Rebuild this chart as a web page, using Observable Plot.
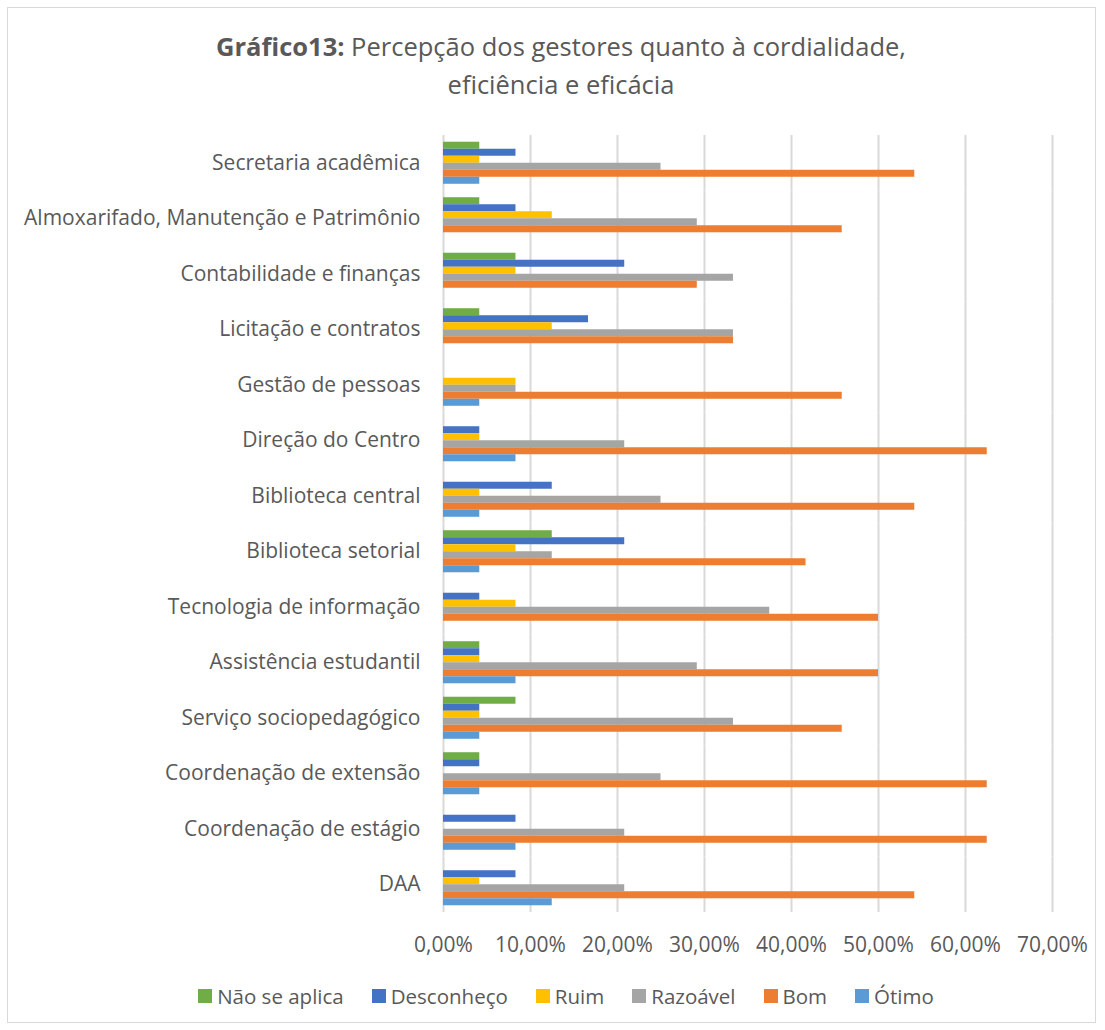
<!DOCTYPE html>
<html>
<head>
<meta charset="utf-8">
<script src="https://cdn.jsdelivr.net/npm/d3@7"></script>
<script src="https://cdn.jsdelivr.net/npm/@observablehq/plot@0.6"></script>
<style>
  html, body { margin: 0; padding: 0; background: #fff; }
  body { width: 1105px; height: 1030px; position: relative; font-family: "Open Sans", sans-serif; color: #595959; overflow: hidden; }
  #frame { position: absolute; left: 7px; top: 7px; width: 1089px; height: 1016px; border: 1px solid #d9d9d9; box-sizing: border-box; }
  #title { position: absolute; left: 0; top: 27px; width: 1122px; text-align: center; font-size: 25.5px; line-height: 38px; color: #595959; }
  #title b { font-weight: bold; }
  #chart { position: absolute; left: 0; top: 125px; }
  #legend { position: absolute; left: 0; top: 982px; width: 1132px; display: flex; justify-content: center; font-size: 20.5px; color: #595959; }
  #legend .item { display: flex; align-items: center; margin: 0 14px; }
  #legend .sw { width: 14px; height: 14px; margin-right: 5px; }
</style>
</head>
<body>
<div id="frame"></div>
<div id="title"><b>Gráfico13:</b> Percepção dos gestores quanto à cordialidade,<br>eficiência e eficácia</div>
<div id="chart"></div>
<div id="legend"></div>
<script>
const categories = [
  "Secretaria acadêmica",
  "Almoxarifado, Manutenção e Patrimônio",
  "Contabilidade e finanças",
  "Licitação e contratos",
  "Gestão de pessoas",
  "Direção do Centro",
  "Biblioteca central",
  "Biblioteca setorial",
  "Tecnologia de informação",
  "Assistência estudantil",
  "Serviço sociopedagógico",
  "Coordenação de extensão",
  "Coordenação de estágio",
  "DAA"
];
const seriesNames = ["Não se aplica", "Desconheço", "Ruim", "Razoável", "Bom", "Ótimo"];
const seriesColors = ["#70ad47", "#4472c4", "#ffc000", "#a5a5a5", "#ed7d31", "#5b9bd5"];

const naoSeAplica = [4.17, 4.17, 8.33, 4.17, 0, 0, 0, 12.5, 0, 4.17, 8.33, 4.17, 0, 0];
const desconheco  = [8.33, 8.33, 20.83, 16.67, 0, 4.17, 12.5, 20.83, 4.17, 4.17, 4.17, 4.17, 8.33, 8.33];
const ruim        = [4.17, 12.5, 8.33, 12.5, 8.33, 4.17, 4.17, 8.33, 8.33, 4.17, 4.17, 0, 0, 4.17];
const razoavel    = [25, 29.17, 33.33, 33.33, 8.33, 20.83, 25, 12.5, 37.5, 29.17, 33.33, 25, 20.83, 20.83];
const bom         = [54.17, 45.83, 29.17, 33.33, 45.83, 62.5, 54.17, 41.67, 50, 50, 45.83, 62.5, 62.5, 54.17];
const otimo       = [4.17, 0, 0, 0, 4.17, 8.33, 4.17, 4.17, 0, 8.33, 4.17, 4.17, 8.33, 12.5];

const xTicks = [0, 10, 20, 30, 40, 50, 60, 70];

const seriesValues = [naoSeAplica, desconheco, ruim, razoavel, bom, otimo];
const rows = [];
categories.forEach((c, i) => {
  seriesNames.forEach((s, j) => rows.push({cat: c, series: s, value: seriesValues[j][i]}));
});

const fmt = d => d.toFixed(2).replace(".", ",") + "%";

const chart = Plot.plot({
  width: 1105,
  height: 837,
  marginLeft: 443,
  marginRight: 53,
  marginTop: 10,
  marginBottom: 50,
  style: {fontFamily: "'Open Sans', sans-serif", fontSize: "21px", color: "#595959", background: "transparent"},
  x: {domain: [0, 70], ticks: xTicks, tickFormat: fmt, tickSize: 0, tickPadding: 25, label: null},
  y: {domain: seriesNames, axis: null, paddingInner: 0, paddingOuter: 0.96, round: false},
  fy: {domain: categories, paddingInner: 0, paddingOuter: 0, round: false, axis: "left", tickSize: 0, tickPadding: 23, label: null},
  color: {domain: seriesNames, range: seriesColors},
  facet: {data: rows, y: "cat", marginRight: 0, marginLeft: 0, marginTop: 0, marginBottom: 0},
  marks: [
    Plot.ruleX(xTicks, {stroke: "#d9d9d9", strokeWidth: 2}),
    Plot.barX(rows, {x: "value", y: "series", fy: "cat", fill: "series"})
  ]
});
document.getElementById("chart").appendChild(chart);

const legend = document.getElementById("legend");
seriesNames.forEach((s, i) => {
  const it = document.createElement("div");
  it.className = "item";
  it.innerHTML = `<span class="sw" style="background:${seriesColors[i]}"></span><span>${s}</span>`;
  legend.appendChild(it);
});
</script>
</body>
</html>
